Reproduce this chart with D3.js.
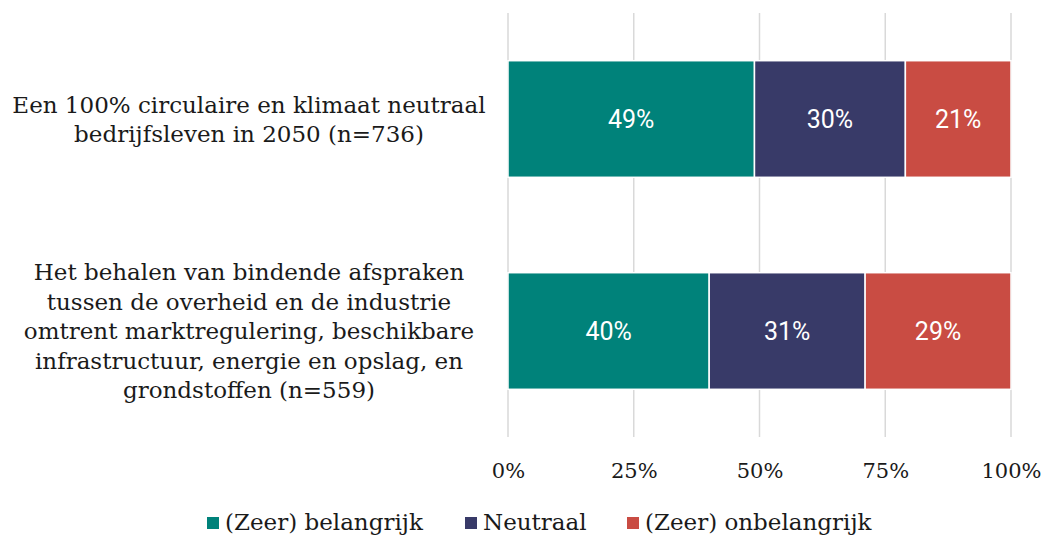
<!DOCTYPE html>
<html><head><meta charset="utf-8">
<script src="https://cdn.jsdelivr.net/npm/d3@7"></script>
<style>body{margin:0;background:#fff}</style>
</head><body><svg id="c" width="1046" height="536"></svg>
<script>
const categories = [
  ["Een 100% circulaire en klimaat neutraal","bedrijfsleven in 2050 (n=736)"],
  ["Het behalen van bindende afspraken","tussen de overheid en de industrie","omtrent marktregulering, beschikbare","infrastructuur, energie en opslag, en","grondstoffen (n=559)"]
];
const seriesNames = ["(Zeer) belangrijk","Neutraal","(Zeer) onbelangrijk"];
const belangrijk = [49, 40];
const neutraal = [30, 31];
const onbelangrijk = [21, 29];
const tickValues = [0, 25, 50, 75, 100];
const colors = ["#00827A", "#383A68", "#C94C43"];

const svg = d3.select("#c");
const serif = "'DejaVu Serif', serif";
const sans = "Roboto, sans-serif";
const x = d3.scaleLinear().domain([0,100]).range([508,1011]);
const y = d3.scaleBand().domain([0,1]).range([13,437]).paddingInner(0.45).paddingOuter(0.225);

// gridlines
svg.append("g").selectAll("line").data(tickValues).join("line")
  .attr("x1", d=>x(d)).attr("x2", d=>x(d)).attr("y1", 13).attr("y2", 437)
  .attr("stroke", "#d9d9d9").attr("stroke-width", 1.5);

const table = categories.map((c,i)=>({i, v:[belangrijk[i], neutraal[i], onbelangrijk[i]]}));
const g = svg.append("g");
table.forEach(row=>{
  let acc = 0;
  row.v.forEach((v,k)=>{
    const x0 = acc; acc += v;
    g.append("rect").attr("x", x(x0)).attr("width", x(acc)-x(x0))
      .attr("y", y(row.i)).attr("height", y.bandwidth())
      .attr("fill", colors[k]).attr("stroke", "#fff").attr("stroke-width", 1.5);
    g.append("text").attr("x", (x(x0)+x(acc))/2).attr("y", y(row.i)+y.bandwidth()/2)
      .attr("dy","0.36em").attr("text-anchor","middle").attr("fill","#fff")
      .style("font-family", sans).style("font-size","25px").text(v+"%");
  });
});

// category labels
categories.forEach((lines,i)=>{
  const cy = y(i)+y.bandwidth()/2;
  const lh = 29.5;
  const t = svg.append("text").attr("text-anchor","middle").attr("fill","#1a1a1a")
    .style("font-family", serif).style("font-size","23px");
  lines.forEach((l,j)=>{
    t.append("tspan").attr("x", 249).attr("y", cy + (j-(lines.length-1)/2)*lh).attr("dy","0.36em").text(l);
  });
});

// x axis
const ax = svg.append("g").attr("transform","translate(0,457)")
  .call(d3.axisBottom(x).tickValues(tickValues).tickFormat(d=>d+"%").tickSize(0).tickPadding(6));
ax.select(".domain").remove();
ax.selectAll("text").style("font-family", serif).style("font-size","21px").attr("fill","#1a1a1a");

// legend
const leg = svg.append("g");
const legX = [207, 465, 627];
seriesNames.forEach((n,k)=>{
  leg.append("rect").attr("x", legX[k]).attr("y", 517).attr("width", 12).attr("height", 12).attr("fill", colors[k]);
  leg.append("text").attr("x", legX[k]+18).attr("y", 522).attr("dy","0.36em")
    .style("font-family", serif).style("font-size","23px").attr("fill","#1a1a1a").text(n);
});
</script></body></html>
